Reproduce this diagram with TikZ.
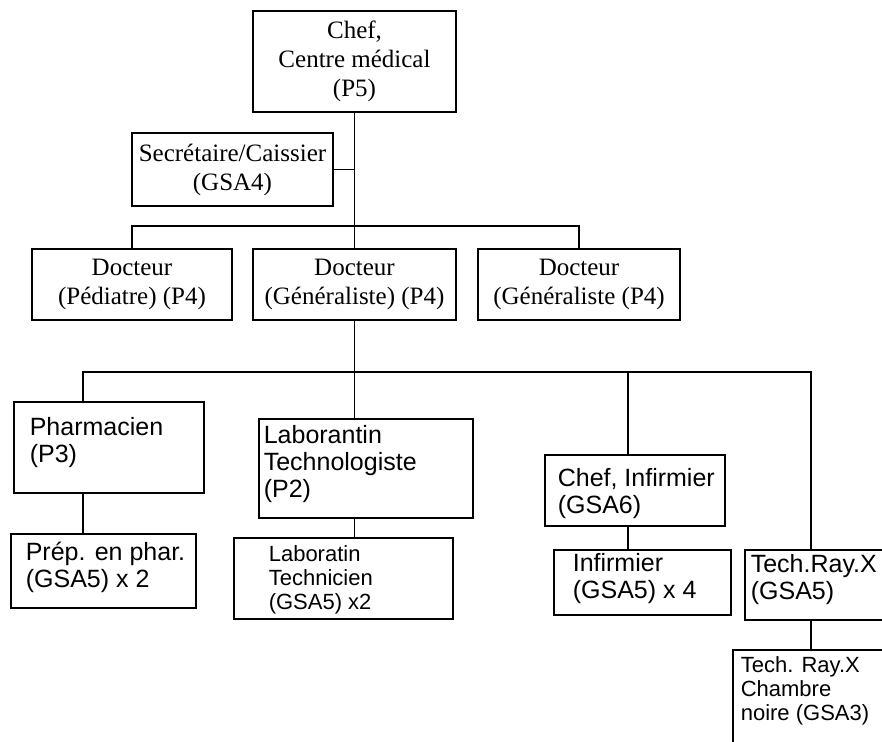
\documentclass[tikz,border=0pt]{standalone}
\usepackage{fontspec}
\setmainfont{Liberation Serif}
\setsansfont{Liberation Sans}
\usetikzlibrary{positioning}

\begin{document}
\begin{tikzpicture}[x=0.5pt, y=-0.5pt, line width=0.8pt,
    box/.style={draw, inner sep=0pt},
    post/.style={box, font=\fontsize{12.5}{14.5}\selectfont, align=center},
    cell/.style={box, anchor=north west},
    txt/.style={inner sep=0pt, align=left, font=\sffamily\fontsize{12.5}{13.5}\selectfont},
    smalltxt/.style={txt, font=\sffamily\fontsize{11}{12}\selectfont}]
    \useasboundingbox (0,0) rectangle (882,741);
    \clip (0,0) rectangle (882,741);
    % direction
    \node[post, minimum width=101.5pt, minimum height=50.5pt] (chef) at (354.5,61.5) {Chef,\\Centre médical\\(P5)};
    \node[post, minimum width=100.5pt, minimum height=36.5pt] (sec) at (232.5,169.5) {Secrétaire/Caissier\\(GSA4)};
    % docteurs
    \node[post, minimum width=100pt, minimum height=35.5pt] (doc1) at (132,284.5) {Docteur\\(Pédiatre) (P4)};
    \node[post, minimum width=101.5pt, minimum height=35.5pt] (doc2) at (354.5,284.5) {Docteur\\(Généraliste) (P4)};
    \node[post, minimum width=101pt, minimum height=35.5pt] (doc3) at (579,284.5) {Docteur\\(Généraliste (P4)};
    % services
    \node[cell, minimum width=95pt, minimum height=45.5pt] (pharm) at (13,401) {};
    \node[cell, minimum width=92.5pt, minimum height=37pt] (prep) at (10,533) {};
    \node[cell, minimum width=107pt, minimum height=49.5pt] (labo) at (258,418) {};
    \node[cell, minimum width=109.5pt, minimum height=40.5pt] (labtec) at (233,537) {};
    \node[cell, minimum width=90pt, minimum height=35.5pt] (chefinf) at (544,454) {};
    \node[cell, minimum width=88.5pt, minimum height=32.5pt] (inf) at (553,549) {};
    \node[cell, minimum width=72pt, minimum height=35pt] (tech) at (744,549) {};
    \node[cell, minimum width=80pt, minimum height=55pt] (noire) at (732,649) {};
    \node[txt, below right=8pt and 8pt of pharm.north west] (pharm-t) {Pharmacien\\(P3)};
    \node[txt, below right=4pt and 7.5pt of prep.north west] (prep-t) {Prép. en phar.\\(GSA5) x 2};
    \node[txt, below right=3.5pt and 2.5pt of labo.north west] (labo-t) {Laborantin\\Technologiste\\(P2)};
    \node[smalltxt, below right=4pt and 17.5pt of labtec.north west] (labtec-t) {Laboratin\\Technicien\\(GSA5) x2};
    \node[txt, below right=7pt and 6.5pt of chefinf.north west] (chefinf-t) {Chef, Infirmier\\(GSA6)};
    \node[txt, below right=2pt and 9.5pt of inf.north west] (inf-t) {Infirmier\\(GSA5) x 4};
    \node[txt, below right=2.5pt and 3pt of tech.north west] (tech-t) {Tech.Ray.X\\(GSA5)};
    \node[smalltxt, below right=3.5pt and 4pt of noire.north west] (noire-t) {Tech. Ray.X\\Chambre\\noire (GSA3)};
    \coordinate (row2) at (0,226);
    \coordinate (row3) at (0,372);
    \coordinate (col1) at (83,0);
    \coordinate (col3) at (628,0);
    \coordinate (col4) at (811,0);
    % liaisons
    \draw (chef) -- (doc2);
    \draw (sec) -- (sec -| chef);
    \draw (doc1) |- (doc3 |- row2) -- (doc3);
    \draw (doc2) -- (doc2 |- labo.north);
    \draw (col1 |- pharm.north) |- (col4 |- row3) -- (col4 |- tech.north);
    \draw (col3 |- row3) -- (col3 |- chefinf.north);
    \draw (col1 |- pharm.south) -- (col1 |- prep.north);
    \draw (doc2 |- labo.south) -- (doc2 |- labtec.north);
    \draw (col3 |- chefinf.south) -- (col3 |- inf.north);
    \draw (col4 |- tech.south) -- (col4 |- noire.north);
\end{tikzpicture}
\end{document}
